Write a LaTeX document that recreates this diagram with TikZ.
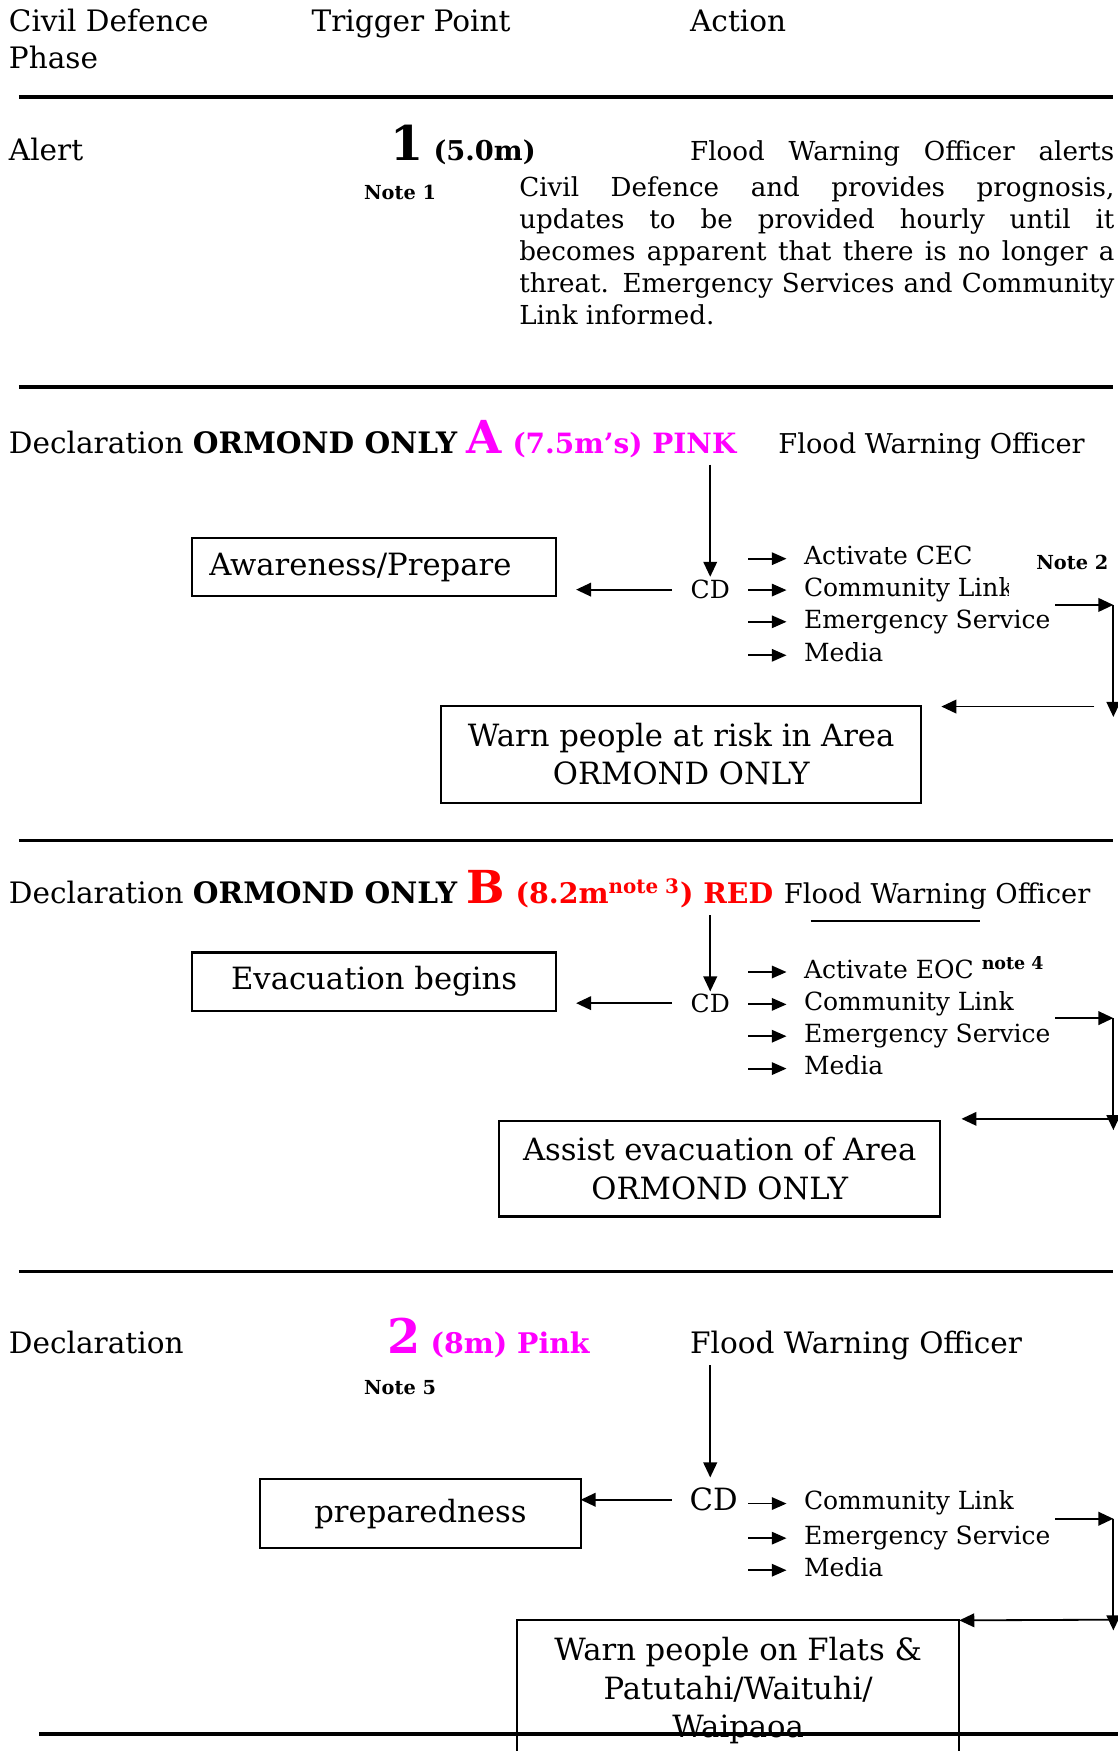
\documentclass[tikz,border=0pt]{standalone}
\usepackage{fontspec}
\setmainfont{DejaVu Serif}
\usetikzlibrary{arrows.meta}
\definecolor{pinkmag}{RGB}{255,0,255}
\definecolor{alarmred}{RGB}{255,0,0}

\begin{document}
\begin{tikzpicture}
[x=0.4914pt,y=-0.4914pt,every node/.style={inner sep=0pt,outer sep=0pt},
phasehead/.style={anchor=base west,align=left,font=\fontsize{13}{16.1}\selectfont},
bodytxt/.style={anchor=base west,font=\fontsize{12}{14.1}\selectfont},
cdtxt/.style={font=\fontsize{11}{13}\selectfont},
actlbl/.style={anchor=base west,font=\fontsize{11}{13}\selectfont,text height=8pt,text depth=2.5pt},
notetxt/.style={anchor=base west,font=\fontsize{8.5}{10}\selectfont\bfseries},
actbox/.style={draw,line width=0.9pt,align=center,font=\fontsize{13.5}{17}\selectfont},
sepline/.style={line width=1.7pt},
flowarr/.style={line width=0.8pt,-{Triangle[length=6.6pt,width=6pt]}},
smallarr/.style={line width=0.8pt,-{Triangle[length=6.5pt,width=5.5pt]}}]
\useasboundingbox (0,0) rectangle (1001,1568);
\node[phasehead] (hphase) at (8,61.2) {Civil Defence\\Phase};
\node[phasehead] (htrig) at (279,28.4) {Trigger Point};
\node[phasehead] (hact) at (618,28.4) {Action};
\draw[sepline] (17,86.6) -- (997,86.6);
\node[phasehead] (alert) at (8,144) {Alert};
\node[anchor=base west,font=\bfseries\fontsize{12}{14}\selectfont] (trig1) at (350,144) {{\fontsize{21}{21}\selectfont 1} (5.0m)};
\node[notetxt] (note1) at (326,179) {Note 1};
\node[bodytxt,font=\fontsize{11.5}{14.1}\selectfont,text width=186.7pt] (alertA) at (618,144) {Flood\hfill Warning\hfill Officer\hfill alerts};
\node[bodytxt,font=\fontsize{11.5}{14.1}\selectfont,text width=261.9pt,align=justify] (alertB) at (465,176) {Civil Defence and provides prognosis,\linebreak updates to be provided hourly until it\linebreak becomes apparent that there is no longer a\linebreak threat. Emergency Services and Community\linebreak Link informed.};
\draw[sepline] (17,346.8) -- (997,346.8);
\node[phasehead] (declA) at (8,405.9) {Declaration \textbf{ORMOND ONLY} {\color{pinkmag}\bfseries{\fontsize{20}{20}\selectfont A} \fontsize{12.3}{14}\selectfont(7.5m’s) PINK}};
\node[bodytxt] (fwoA) at (697,405.9) {Flood Warning Officer};
\node[cdtxt] (cdA) at (636,528) {CD};
\node[actbox,minimum width=160.2pt,minimum height=25.6pt,text width=145pt,align=left] (awA) at (335,508) {Awareness/Prepare};
\node[actlbl] (actA) at (720,505.9) {Activate CEC};
\begin{scope}
\clip (700,480) rectangle (903,550);
\node[actlbl] (comA) at (720,534) {Community Link};
\end{scope}
\node[actlbl] (emgA) at (720,562.4) {Emergency Service};
\node[actlbl] (medA) at (720,592.4) {Media};
\node[notetxt] (note2) at (928,509.8) {Note 2};
\node[actbox,minimum width=211.3pt,minimum height=42.6pt] (warnA) at (610,675.3) {Warn people at risk in Area\\ORMOND ONLY};
\coordinate (fA) at (636,416);
\coordinate (rA1) at (945,541.7);
\coordinate (rA2) at (997,541.7);
\coordinate (rA3) at (997,642);
\coordinate (rA4) at (980,632.7);
\coordinate (rA5) at (843,632.7);
\draw[flowarr,shorten >=1.5pt] (fA) -- (cdA);
\draw[flowarr,shorten <=8.2pt,shorten >=8.8pt] (cdA.west) -- (cdA.west -| awA.east);
\draw[sepline] (17,752.7) -- (997,752.7);
\node[phasehead] (declB) at (8,808.8) {Declaration \textbf{ORMOND ONLY} {\color{alarmred}\bfseries{\fontsize{20}{20}\selectfont B} \fontsize{12.5}{14}\selectfont(8.2m\textsuperscript{note 3}) RED}};
\node[bodytxt] (fwoB) at (702,808.8) {Flood Warning Officer};
\draw[line width=0.8pt] (726,824.6) -- (878,824.6);
\node[cdtxt] (cdB) at (636,898.3) {CD};
\node[actbox,minimum width=160.2pt,minimum height=25.6pt] (evB) at (335,879) {Evacuation begins};
\node[actlbl] (actB) at (720,876) {Activate EOC \textsuperscript{\bfseries note 4}};
\node[actlbl] (comB) at (720,905) {Community Link};
\node[actlbl] (emgB) at (720,933.5) {Emergency Service};
\node[actlbl] (medB) at (720,962.5) {Media};
\node[actbox,minimum width=194.1pt,minimum height=42.2pt] (assistB) at (644.5,1046.4) {Assist evacuation of Area\\ORMOND ONLY};
\coordinate (fB) at (636,819.8);
\coordinate (rB1) at (945,911.7);
\coordinate (rB2) at (997,911.7);
\coordinate (rB3) at (997,1012);
\coordinate (rB4) at (995,1001.9);
\coordinate (rB5) at (861,1001.9);
\draw[flowarr,shorten >=1pt] (fB) -- (cdB);
\draw[flowarr,shorten <=8.2pt,shorten >=8.8pt] (cdB.west) -- (cdB.west -| evB.east);
\draw[sepline] (17,1138.6) -- (997,1138.6);
\node[phasehead] (decl2) at (8,1211.7) {Declaration};
\node[anchor=base west,font=\bfseries\fontsize{12.5}{14}\selectfont,text=pinkmag] (trig2) at (347,1211.7) {{\fontsize{21}{21}\selectfont 2} (8m) Pink};
\node[notetxt] (note5) at (326,1249) {Note 5};
\node[phasehead] (fwo2) at (618,1211.7) {Flood Warning Officer};
\node[cdtxt,font=\fontsize{13.5}{16}\selectfont] (cd2) at (639,1343) {CD};
\node[actbox,minimum width=141pt,minimum height=30.5pt] (prep2) at (376.5,1355.5) {preparedness};
\node[actlbl] (com2) at (720,1352) {Community Link};
\node[actlbl] (emg2) at (720,1383) {Emergency Service};
\node[actlbl] (med2) at (720,1411.7) {Media};
\node[actbox,anchor=north,minimum width=194.6pt,inner ysep=7.5pt,text depth=70pt] (flats2) at (661,1451) {Warn people on Flats \&\\Patutahi/Waituhi/\\Waipaoa};
\coordinate (f2) at (636,1222.7);
\coordinate (r21) at (945,1360);
\coordinate (r22) at (997,1360);
\coordinate (r23) at (997,1460);
\coordinate (r24) at (995,1450.4);
\draw[flowarr,shorten >=4.7pt] (f2) -- (f2 |- cd2.north);
\draw[flowarr,shorten <=7.9pt] (cd2.west) -- (cd2.west -| prep2.east);
\draw[flowarr] (r24) -- (flats2.north east);
\foreach \lbl in {actA,comA,emgA,medA,actB,comB,emgB,medB,com2,emg2,med2}
\draw[smallarr] ([xshift=-24.6pt]\lbl.west) -- ([xshift=-7.7pt]\lbl.west);
\foreach \from/\to in {rA1/rA2,rA2/rA3,rA4/rA5,rB1/rB2,rB2/rB3,rB4/rB5,r21/r22,r22/r23}
\draw[flowarr] (\from) -- (\to);
\draw[sepline] (35,1552.8) -- (1001,1552.8);
\end{tikzpicture}
\end{document}
